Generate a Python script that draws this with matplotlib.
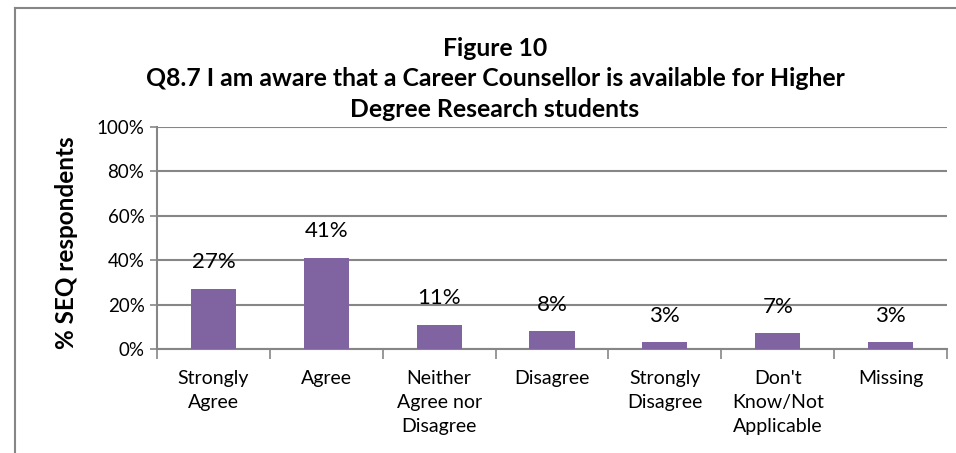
import matplotlib.pyplot as plt
import numpy as np
from matplotlib.lines import Line2D

plt.rcParams['font.family'] = ['Lato', 'DejaVu Sans']

categories = ["Strongly\nAgree", "Agree", "Neither\nAgree nor\nDisagree", "Disagree",
              "Strongly\nDisagree", "Don't\nKnow/Not\nApplicable", "Missing"]
values = [27, 41, 11, 8, 3, 7, 3]
yticks = [0, 20, 40, 60, 80, 100]

W, H = 956, 453
fig = plt.figure(figsize=(W / 100, H / 100), dpi=100)
grey = '#868686'

# chart border (runs off the right and bottom edges)
fig.add_artist(Line2D([15 / W, 15 / W], [0, 1 - 8 / H], color=grey, lw=1.5, transform=fig.transFigure))
fig.add_artist(Line2D([15 / W, 1], [1 - 8 / H, 1 - 8 / H], color=grey, lw=1.5, transform=fig.transFigure))

ax = fig.add_axes([157 / W, 104 / H, 790 / W, 222 / H])
x = np.arange(len(values))
ax.bar(x, values, width=0.4, color='#8064A2', zorder=3)

for xi, v in zip(x, values):
    ax.annotate("%d%%" % v, (xi, v), xytext=(0, 12), textcoords='offset points',
                ha='center', va='bottom', fontsize=16, color='black')

ax.set_xlim(-0.5, len(values) - 0.5)
ax.set_ylim(0, 100)
ax.set_yticks(yticks)
ax.set_yticklabels(["%d%%" % t for t in yticks], fontsize=13.5)
ax.yaxis.grid(True, color=grey, lw=1.5, zorder=0)
ax.tick_params(axis='y', length=5, color=grey, width=1.2, pad=4)

ax.set_xticks(x)
ax.set_xticklabels(categories, fontsize=14, linespacing=1.5)
ax.set_xticks(np.arange(-0.5, len(values)), minor=True)
ax.tick_params(axis='x', which='major', length=0, pad=15)
ax.tick_params(axis='x', which='minor', length=7, color=grey, width=1.2)

for s in ['top', 'right']:
    ax.spines[s].set_visible(False)
for s in ['left', 'bottom']:
    ax.spines[s].set_color(grey)
    ax.spines[s].set_linewidth(1.5)

ax.set_ylabel("% SEQ respondents", fontsize=17.5, fontweight='bold')
ax.yaxis.set_label_coords(-79 / 790, 0.477)

fig.text(495 / W, 1 - 79 / H, "Figure 10\nQ8.7 I am aware that a Career Counsellor is available for Higher\nDegree Research students",
         ha='center', va='center', fontsize=17.8, fontweight='bold', linespacing=1.385)

fig.savefig('out.png', dpi=100)
